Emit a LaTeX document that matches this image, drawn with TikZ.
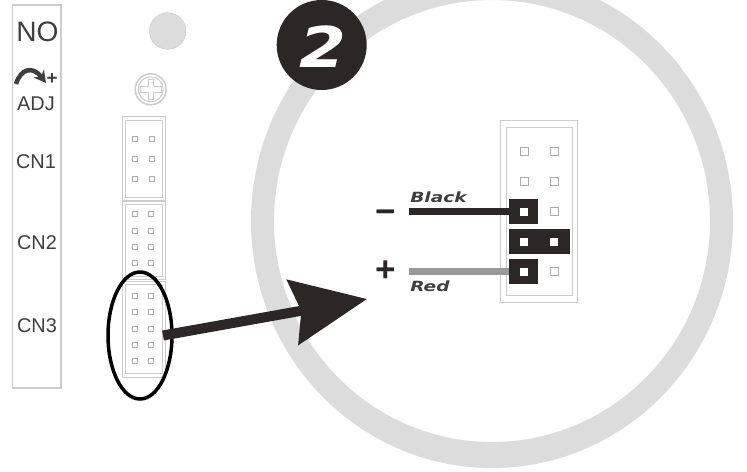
\documentclass[tikz,border=0pt]{standalone}
\usepackage{fontspec}
\setmainfont{Liberation Sans}
\newfontfamily\wirefont{DejaVu Sans}
\usetikzlibrary{arrows.meta,shapes.geometric}
\newcommand{\unitpx}{0.03cm}
\definecolor{ringgray}{HTML}{DCDCDC}
\definecolor{linegray}{HTML}{CCCCCC}
\definecolor{pingray}{HTML}{ADADAD}
\definecolor{inkgray}{HTML}{3F3F3F}
\definecolor{inkblack}{HTML}{2B2727}
\tikzset{
	panellabel/.style={text=inkgray, inner sep=0pt, font=\fontsize{17}{17}\selectfont},
	wirelabel/.style={text=inkgray, inner sep=0pt, xscale=1.32, font=\wirefont\bfseries\itshape\fontsize{12}{12}\selectfont},
	signlabel/.style={text=inkblack, inner sep=0pt, font=\bfseries\fontsize{30}{30}\selectfont},
	headerline/.style={draw=linegray, line width=1*\unitpx},
	smallpin/.style={draw=pingray, fill=white, line width=0.8*\unitpx, inner sep=0pt, minimum size=5*\unitpx},
	bigpin/.style={draw=pingray, fill=white, line width=1*\unitpx, inner sep=0pt, minimum size=8*\unitpx},
	jumperpin/.style={fill=white, inner sep=0pt, minimum size=8*\unitpx},
	jumper/.style={fill=inkblack, inner sep=0pt, minimum height=25*\unitpx},
	wire/.style={line width=7*\unitpx}
}
\begin{document}
\begin{tikzpicture}[x=0.03cm,y=-0.03cm]

	%Background
	\clip (0,0) rectangle (747,472);
	\fill[white] (0,0) rectangle (747,472);

	%Ring
	\fill[ringgray, even odd rule] (492,221) ellipse (241 and 247) (492,221) ellipse (218 and 221);

	%Badge
	\fill[inkblack] (321.7,45) circle (45);
	\node[text=white, inner sep=0pt, xscale=1.2, font=\wirefont\bfseries\itshape\fontsize{48}{48}\selectfont] (badgetwo) at (323,47) {2};

	%Panel
	\draw[draw=linegray, line width=1.5*\unitpx] (12.7,5) rectangle (61,388);
	\node[panellabel, font=\fontsize{24}{24}\selectfont] (nolabel) at (37.5,32) {NO};
	\draw[draw=inkgray, line width=4.5*\unitpx, -{Stealth[length=0.36cm,width=0.39cm]}] (16,84) .. controls (21,68) and (33,66) .. (46,83);
	\node[panellabel, font=\bfseries\fontsize{16}{16}\selectfont] (pluslabel) at (52,79) {+};
	\node[panellabel] (adjlabel) at (36,104) {ADJ};
	\node[panellabel] (cnonelabel) at (36,162) {CN1};
	\node[panellabel] (cntwolabel) at (37,243) {CN2};
	\node[panellabel] (cnthreelabel) at (37,326) {CN3};

	%Lamp and screw
	\fill[fill=ringgray, draw=linegray] (167.7,31) circle (18.3);
	\draw[headerline, line width=1.5*\unitpx] (150.7,89.3) circle (15.5);
	\draw[headerline] (150.7,89.3) circle (12.5);
	\draw[headerline] (148,79) -- (153.5,79) -- (153.5,86.5) -- (161,86.5) -- (161,92) -- (153.5,92) -- (153.5,99.5) -- (148,99.5) -- (148,92) -- (140.5,92) -- (140.5,86.5) -- (148,86.5) -- cycle;

	%CN1
	\draw[headerline] (122,116) rectangle (165,200);
	\draw[headerline] (125,120) rectangle (162,197);
	\foreach \y in {139,159,179} {
		\node[smallpin] (cnone-l-\y) at (134.5,\y) {};
		\node[smallpin] (cnone-r-\y) at (151.5,\y) {};
	}

	%CN2
	\draw[headerline] (122,201) rectangle (165,279);
	\draw[headerline] (125,204) rectangle (162,276);
	\foreach \y in {214,231,247,263} {
		\node[smallpin] (cntwo-l-\y) at (134.5,\y) {};
		\node[smallpin] (cntwo-r-\y) at (151,\y) {};
	}

	%CN3
	\draw[headerline] (122,281) rectangle (165,377);
	\draw[headerline] (125,284) rectangle (162,373);
	\foreach \y in {296,312,329,345,361} {
		\node[smallpin] (cnthree-l-\y) at (134.5,\y) {};
		\node[smallpin] (cnthree-r-\y) at (151,\y) {};
	}

	%Marker
	\node[draw=black, line width=3.5*\unitpx, ellipse, inner sep=0pt, minimum width=64*\unitpx, minimum height=127*\unitpx] (marker) at (140,335.5) {};

	%Arrow
	\coordinate (arrowstart) at (163,335.5);
	\coordinate (arrowtip) at (367,299);
	\draw[draw=inkblack, line width=10*\unitpx, -{Stealth[length=2.25cm,width=1.95cm,inset=0.25cm]}] (arrowstart) -- (arrowtip);

	%Big header
	\draw[headerline] (500.7,120.7) rectangle (577,302);
	\draw[headerline] (506,127) rectangle (572,295);
	\foreach \y in {151,181,211,271} {
		\node[bigpin] (pin-r-\y) at (554,\y) {};
	}
	\foreach \y in {151,181} {
		\node[bigpin] (pin-l-\y) at (524,\y) {};
	}

	%Jumpers
	\node[jumper, minimum width=29*\unitpx] (jumpblack) at (523.5,211.5) {};
	\node[jumper, minimum width=61*\unitpx] (jumpmiddle) at (539.5,241.5) {};
	\node[jumper, minimum width=29*\unitpx] (jumpred) at (523.5,271.5) {};
	\node[jumperpin] (pinblack) at (524,211.5) {};
	\node[jumperpin] (pinmidl) at (524,241.5) {};
	\node[jumperpin] (pinmidr) at (554,241.5) {};
	\node[jumperpin] (pinred) at (524,271.5) {};

	%Wires
	\coordinate (blackend) at (409,211.5);
	\coordinate (redend) at (409,271.5);
	\draw[wire, draw=inkblack] (blackend) -- (jumpblack.west);
	\draw[wire, draw=black!40] (redend) -- (jumpred.west);
	\node[wirelabel, anchor=base west] (blacklabel) at (410,202) {Black};
	\node[wirelabel, anchor=base west] (redlabel) at (410,291.5) {Red};
	\node[signlabel] (minuslabel) at (386,217) {\textminus};
	\node[signlabel] (pluslabeltwo) at (386,271.5) {+};

\end{tikzpicture}
\end{document}
